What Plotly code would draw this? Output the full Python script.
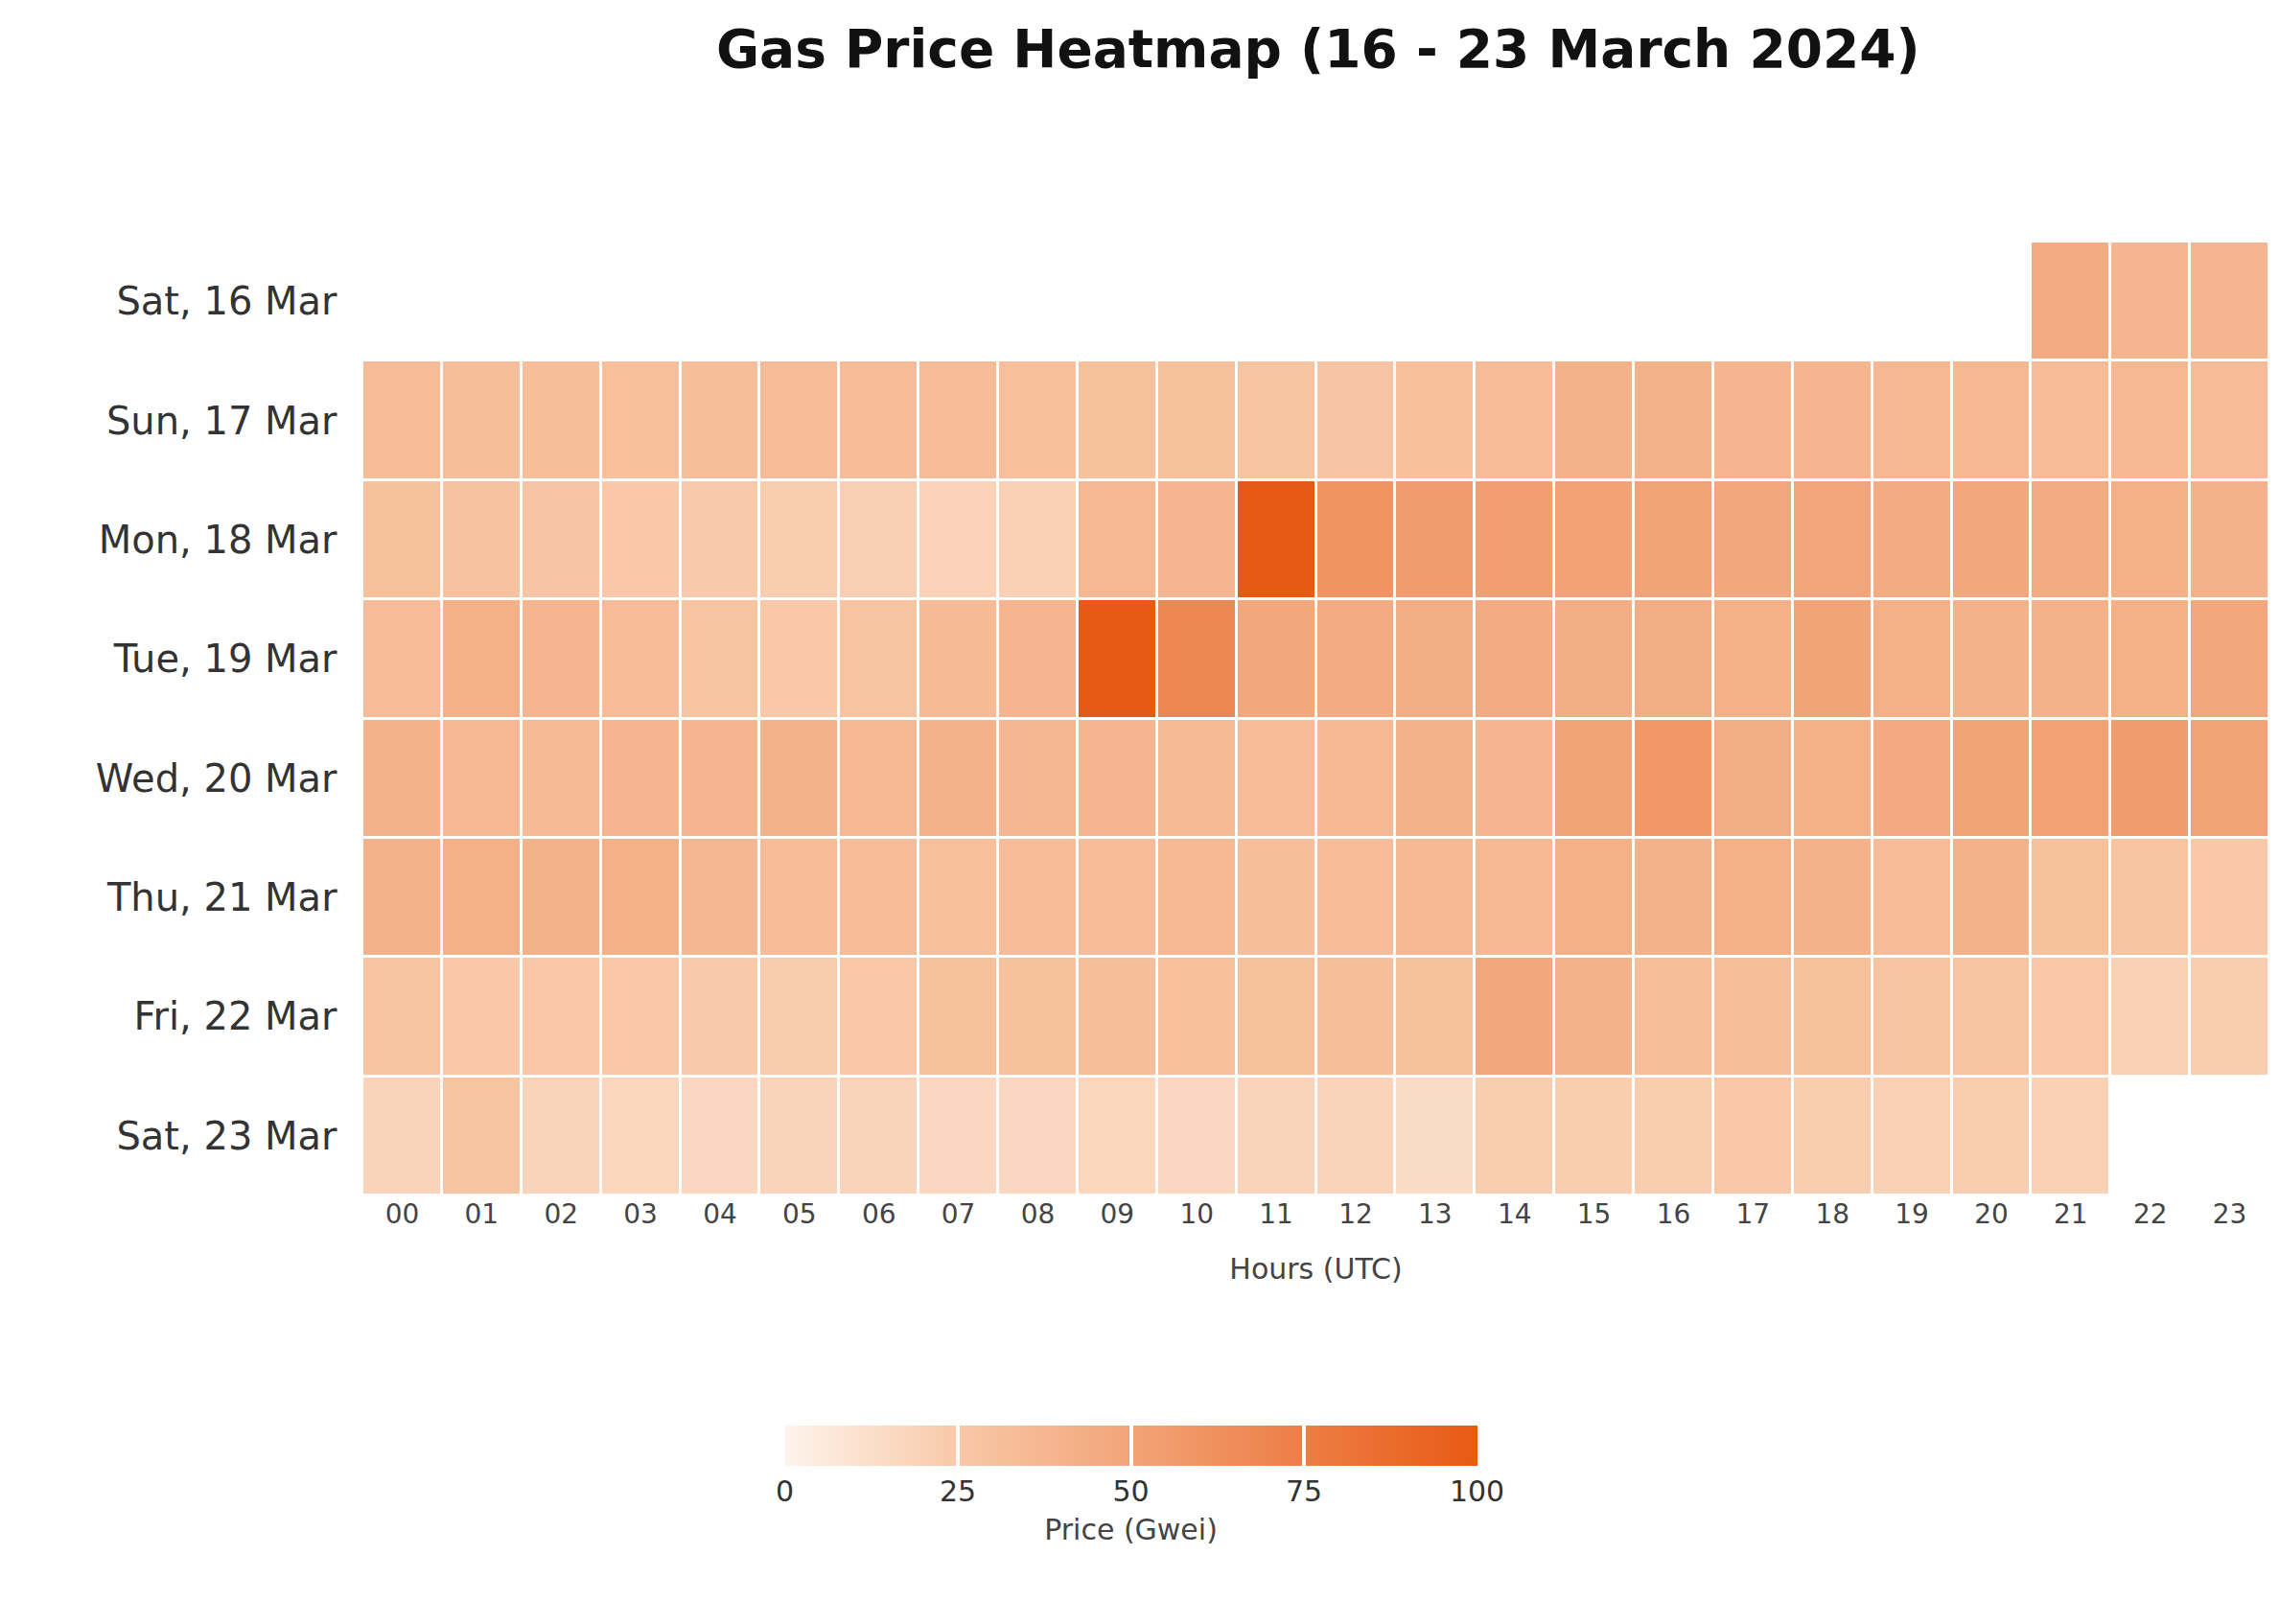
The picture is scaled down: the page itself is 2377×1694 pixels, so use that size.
import plotly.graph_objects as go

hours = [f"{h:02d}" for h in range(24)]
days = ["Sat, 16 Mar", "Sun, 17 Mar", "Mon, 18 Mar", "Tue, 19 Mar",
        "Wed, 20 Mar", "Thu, 21 Mar", "Fri, 22 Mar", "Sat, 23 Mar"]

sat16 = [None] * 21 + [45, 38, 38]
sun17 = [34, 32, 32, 31, 32, 33, 33, 33, 31, 30, 30, 28, 27, 31, 33, 40, 40, 38, 38, 36, 36, 34, 36, 33]
mon18 = [30, 29, 27, 25, 24, 22, 21, 19, 20, 36, 38, 100, 60, 55, 53, 51, 50, 48, 49, 45, 48, 45, 42, 40]
tue19 = [33, 42, 38, 33, 28, 25, 28, 35, 38, 100, 68, 48, 45, 44, 45, 43, 44, 42, 50, 42, 40, 40, 42, 48]
wed20 = [40, 36, 35, 38, 38, 40, 36, 40, 37, 38, 35, 33, 36, 40, 38, 50, 58, 44, 42, 46, 50, 52, 55, 50]
thu21 = [40, 42, 40, 42, 37, 34, 33, 31, 33, 33, 36, 32, 33, 36, 36, 42, 40, 42, 40, 33, 40, 30, 28, 25]
fri22 = [28, 25, 25, 26, 24, 23, 25, 30, 30, 32, 31, 30, 32, 30, 48, 40, 32, 32, 30, 28, 28, 26, 20, 22]
sat23 = [18, 28, 18, 17, 16, 18, 18, 16, 16, 17, 16, 18, 18, 14, 22, 22, 22, 25, 22, 20, 22, 20, None, None]

z = [sat16, sun17, mon18, tue19, wed20, thu21, fri22, sat23]

font = "DejaVu Sans"
fig = go.Figure(go.Heatmap(
    z=z, x=hours, y=days, zmin=0, zmax=100,
    xgap=3, ygap=3,
    colorscale=[[0, "#fdf3ea"], [0.25, "#f8c8a8"], [0.5, "#f2a478"],
                [0.75, "#ed7d45"], [1, "#e85a14"]],
    colorbar=dict(
        orientation="h", xref="container", yref="container",
        x=0.589, xanchor="center", y=0.089, yanchor="middle",
        len=742, lenmode="pixels", thickness=42, outlinewidth=0,
        tickvals=[0, 25, 50, 75, 100], ticks="inside", ticklen=42,
        tickcolor="white", tickwidth=4,
        tickfont=dict(family=font, size=30, color="#333"),
        title=dict(text="Price (Gwei)", side="bottom",
                   font=dict(family=font, size=30, color="#444")),
    ),
    hoverongaps=False,
))
fig.update_layout(
    width=2377, height=1694,
    plot_bgcolor="white", paper_bgcolor="white",
    margin=dict(l=370, r=18, t=244, b=455),
    title=dict(text="<b>Gas Price Heatmap (16 - 23 March 2024)</b>",
               x=0.575, xanchor="center", y=0.975, yanchor="middle",
               font=dict(family=font, size=55, color="#111")),
)
fig.update_xaxes(showgrid=False, zeroline=False, ticks="",
                 tickfont=dict(family=font, size=28, color="#444"),
                 title=dict(text="Hours (UTC)", standoff=30,
                            font=dict(family=font, size=30, color="#444")))
fig.update_yaxes(autorange="reversed", showgrid=False, zeroline=False, ticks="",
                 ticksuffix="  ", tickfont=dict(family=font, size=40, color="#333"))
fig.write_html("out.html")
